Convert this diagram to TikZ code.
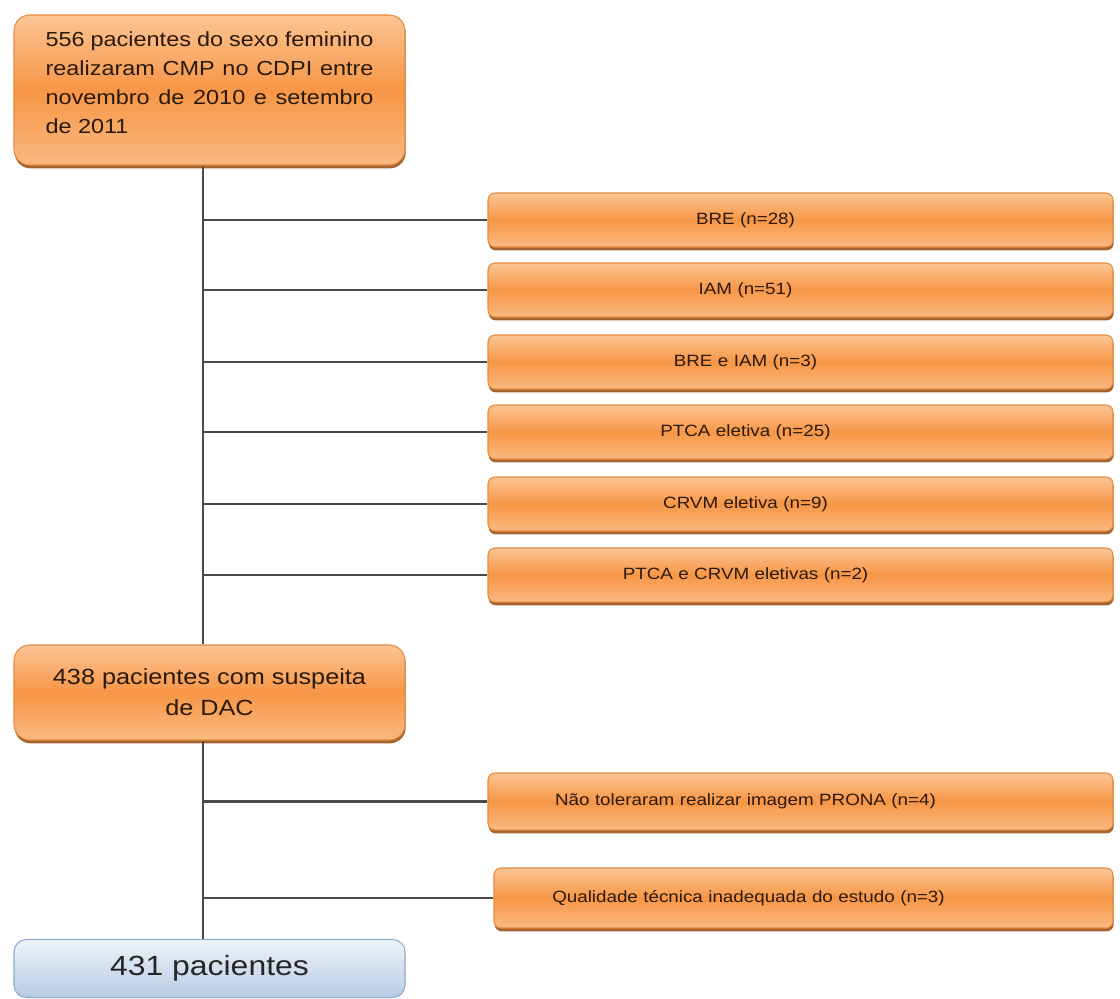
\documentclass[tikz,border=0pt]{standalone}
\usepackage{fontspec}
\setmainfont[FakeStretch=1.15]{Liberation Sans}
\usepackage{tikz}
\usetikzlibrary{positioning,calc,shadows}
\definecolor{ink}      {HTML}{2A1A0C}
\definecolor{boxorange}{HTML}{F79646}
\definecolor{boxlight} {HTML}{FBC595}
\definecolor{boxedge}  {HTML}{E58A3E}
\definecolor{boxshadow}{HTML}{9A5418}
\definecolor{bluetop}  {HTML}{EEF3F9}
\definecolor{bluebot}  {HTML}{B7CBE3}
\definecolor{blueedge} {HTML}{8FA9C8}
\definecolor{linegray} {HTML}{4A4A4A}
\tikzset{
  % --- nodes
  obox/.style  = {rounded corners=6pt, draw=boxedge, line width=0.6pt,
                  top color=boxlight, bottom color=boxlight!75!boxorange,
                  middle color=boxorange, text=ink, inner sep=0pt,
                  drop shadow={shadow xshift=0.4pt, shadow yshift=-1.9pt,
                               fill=boxshadow, opacity=0.9}},
  mainbox/.style = {obox, rounded corners=9pt, minimum width=7.82cm},
  sidebox/.style = {obox, rounded corners=4pt, minimum width=12.5cm,
                    minimum height=1.08cm, text width=12.5cm, align=center,
                    font=\fontsize{9.3}{11}\selectfont,
                    execute at end node=\hspace*{2.2cm}},
  endbox/.style  = {rounded corners=7pt, draw=blueedge, line width=0.6pt,
                    top color=bluetop, bottom color=bluebot, text=black!85,
                    minimum width=7.82cm, minimum height=1.16cm,
                    font=\fontsize{15.8}{18}\selectfont},
  % --- edges
  link/.style  = {draw=linegray, line width=1.2pt},
}
\begin{document}
\begin{tikzpicture}
  \useasboundingbox (0,0) rectangle (22.4,-19.96);
  % main column
  \node[mainbox, minimum height=3.0cm] (start) at (4.19,-1.80)
    {\parbox[c][2.32cm][t]{6.56cm}{\fontsize{11.6}{16.5}\selectfont
     556 pacientes do sexo feminino realizaram CMP no CDPI entre
     novembro de 2010 e setembro de 2011}};
  \node[mainbox, minimum height=1.9cm, align=center,
        font=\fontsize{12.5}{17.6}\selectfont] (dac) at (4.19,-13.85)
    {438 pacientes com suspeita\\de DAC};
  \node[endbox] (final) at (4.19,-19.37) {431 pacientes};
  % exclusions
  \node[sidebox] (bre)    at (16.01,-4.40)  {BRE (n=28)};
  \node[sidebox] (iam)    at (16.01,-5.80)  {IAM (n=51)};
  \node[sidebox] (breiam) at (16.01,-7.24)  {BRE e IAM (n=3)};
  \node[sidebox] (ptca)   at (16.01,-8.64)  {PTCA eletiva (n=25)};
  \node[sidebox] (crvm)   at (16.01,-10.08) {CRVM eletiva (n=9)};
  \node[sidebox] (both)   at (16.01,-11.50) {PTCA e CRVM eletivas (n=2)};
  \node[sidebox, minimum height=1.14cm] (prona) at (16.01,-16.03)
    {Não toleraram realizar imagem PRONA (n=4)};
  \node[sidebox, minimum width=12.38cm, text width=12.38cm,
        minimum height=1.2cm] (qual) at (16.07,-17.96)
    {Qualidade técnica inadequada do estudo (n=3)};
  % trunk
  \coordinate (t1) at ([xshift=-0.13cm]start.south);
  \coordinate (t2) at ([xshift=-0.13cm]dac.north);
  \coordinate (t3) at ([xshift=-0.13cm]dac.south);
  \coordinate (t4) at ([xshift=-0.13cm]final.north);
  \draw[link] (t1) -- (t2);
  \draw[link] (t3) -- (t4);
  \foreach \b in {bre,iam,breiam,ptca,crvm,both}
    \draw[link] (\b.west) -- (\b.west -| t1);
  \foreach \b in {prona,qual}
    \draw[link] (\b.west) -- (\b.west -| t3);
\end{tikzpicture}
\end{document}
